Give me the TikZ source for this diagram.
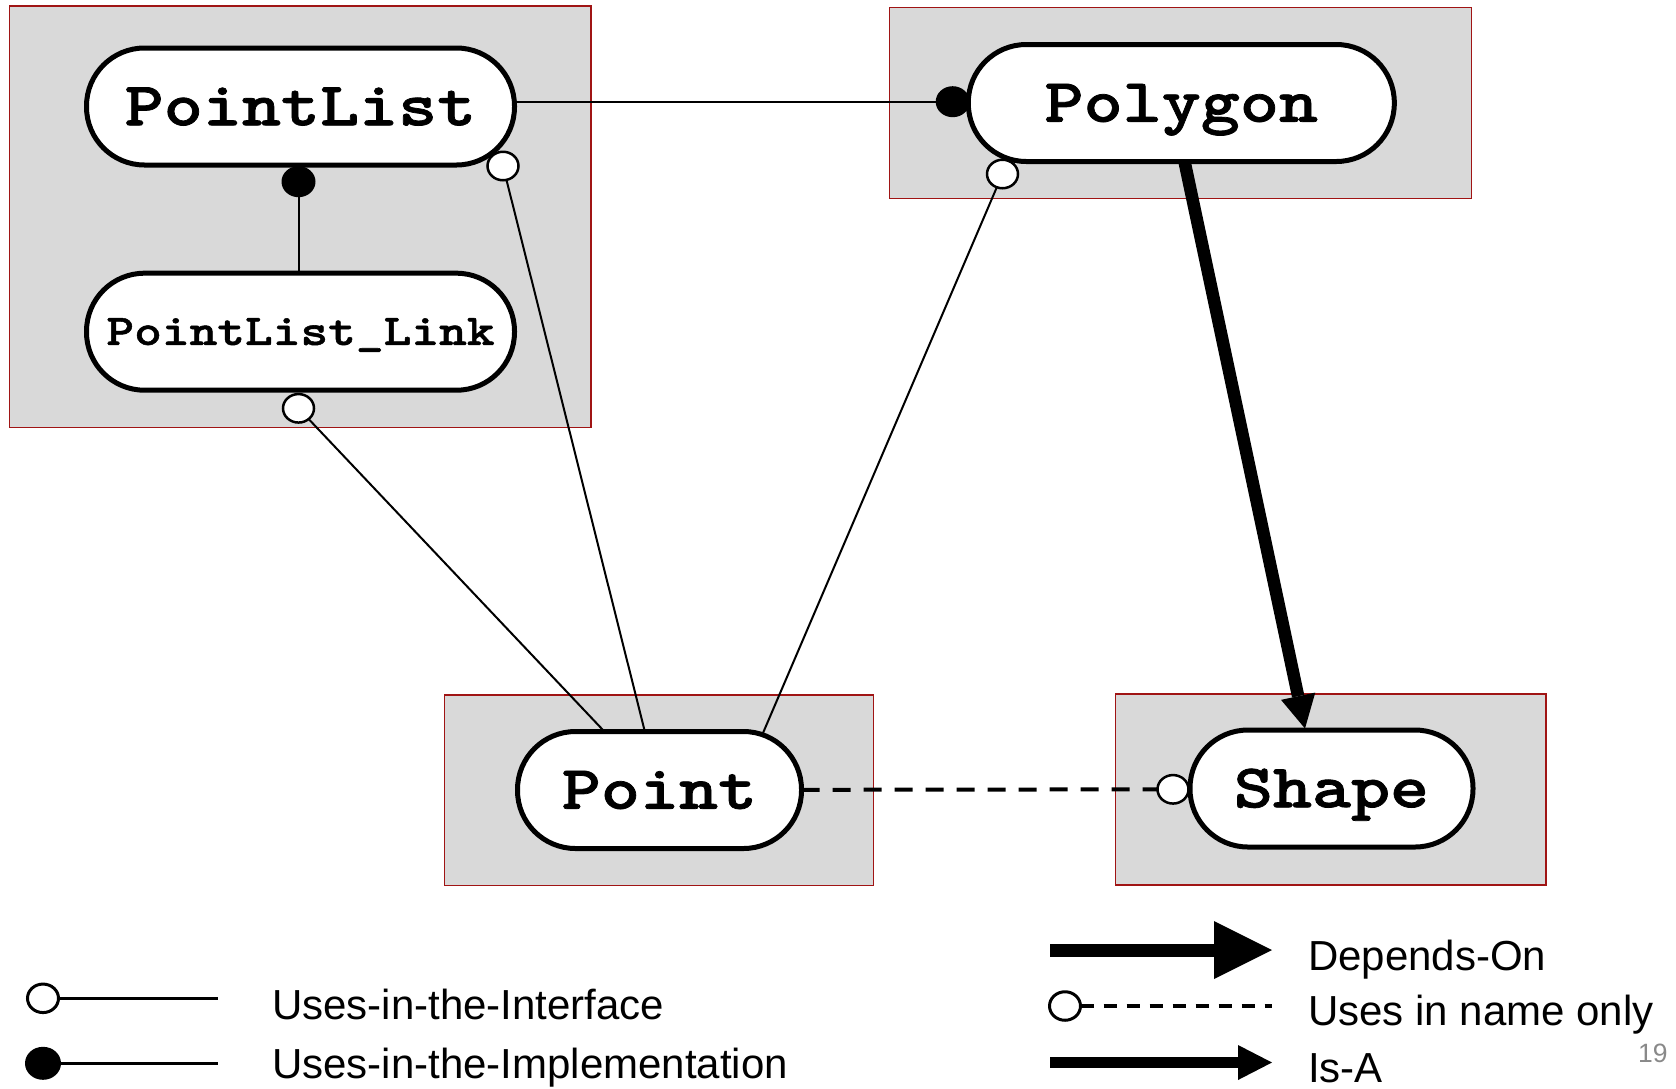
\documentclass[tikz,border=0pt]{standalone}
\usepackage{fontspec}
\setmainfont{Liberation Sans}
\newfontfamily\codefont{lmmonolt10-bold.otf}[FakeStretch=1.2,FakeBold=1.2]
\usetikzlibrary{arrows.meta,shapes.geometric}
\pgfdeclarelayer{boxes}
\pgfdeclarelayer{wires}
\pgfsetlayers{boxes,wires,main}
\definecolor{pkgfill}{RGB}{217,217,217}
\definecolor{pkgedge}{RGB}{160,20,20}
\definecolor{pagenum}{RGB}{137,137,137}

\begin{document}
\begin{tikzpicture}[x=1pt,y=-1pt,
  comp/.style={draw,line width=5pt,fill=white,rounded corners=58pt,
    inner sep=0pt,outer sep=0pt,minimum height=117pt,
    font=\codefont\fontsize{62}{62}\selectfont,
    text height=37.5pt,text depth=0pt},
  smallcomp/.style={comp,font=\codefont\fontsize{44}{44}\selectfont,
    text height=26.5pt},
  pkg/.style={draw=pkgedge,line width=1.3pt,fill=pkgfill,inner sep=0pt,outer sep=0pt},
  fdot/.style={ellipse,fill=black,draw=none,inner sep=0pt,outer sep=0pt,
    minimum width=34pt,minimum height=31pt},
  odot/.style={ellipse,draw,fill=white,line width=2.5pt,inner sep=0pt,outer sep=0pt,
    minimum width=31pt,minimum height=28.5pt},
  wire/.style={line width=2pt},
  namewire/.style={line width=4pt,dash pattern=on 18pt off 13pt},
  isa/.style={line width=12.5pt,-{Triangle[length=33pt,width=35pt,line width=0pt]}},
  legline/.style={line width=3.5pt},
  legdash/.style={line width=4pt,dash pattern=on 13pt off 10pt},
  legtext/.style={anchor=base west,inner sep=0pt,font=\fontsize{42}{42}\selectfont},
]
\useasboundingbox (0,0) rectangle (1676,1088);

% components
\node[comp,minimum width=428pt] (PointList) at (300.5,106.5) {PointList};
\node[smallcomp,minimum width=428pt] (PLink) at (300.5,331.7) {PointList\_Link};
\node[comp,minimum width=426pt] (Polygon) at (1181.3,103) {Polygon};
\node[comp,minimum width=284pt] (Point) at (659.5,790) {Point};
\node[comp,minimum width=283pt] (Shape) at (1331.5,788.5) {Shape};

% usage markers
\node[odot] (cPL) at (503,166) {};
\node[odot] (cLink) at (298.5,408.3) {};
\node[odot] (cPoly) at (1002.5,174) {};
\node[odot] (cShape) at (1173,789.3) {};

\coordinate (ptR) at ([xshift=103.5pt,yshift=-1.5pt]Point.north);
\coordinate (isaS) at ([xshift=3.2pt]Polygon.south);
\coordinate (isaE) at ([xshift=-26.5pt,yshift=1.5pt]Shape.north);

% connectors, behind the components
\begin{pgfonlayer}{wires}
  \node[fdot] (dA) at (298.5,181.7) {};
  \node[fdot] (dB) at (952.7,101.7) {};
  \draw[wire] (dA) -- (dA |- PLink.north);
  \draw[wire] (dB -| PointList.east) -- (dB);
  \draw[wire] (cLink) -- (Point);
  \draw[wire] (cPL) -- (Point);
  \draw[wire] (cPoly) -- (ptR);
  \draw[namewire] (Point) -- (cShape);
  \draw[isa] (isaS) -- (isaE);
\end{pgfonlayer}

% package boxes
\begin{pgfonlayer}{boxes}
  \node[pkg,minimum width=581.4pt,minimum height=421.3pt] (gPL) at (300.3,216.65) {};
  \node[pkg,minimum width=581.7pt,minimum height=191pt] (gPoly) at (1180.45,102.8) {};
  \node[pkg,minimum width=429pt,minimum height=190.7pt] (gPoint) at (659,790.35) {};
  \node[pkg,minimum width=430.4pt,minimum height=191pt] (gShape) at (1330.8,789.5) {};
\end{pgfonlayer}

% legend, left column
\node[odot,line width=3pt] (lgI) at (43,998.3) {};
\coordinate (lgIe) at (218,998.3);
\draw[legline] (lgI) -- (lgIe);
\node[legtext] (tI) at (272,1019.5) {Uses-in-the-Interface};
\node[fdot,minimum width=36pt,minimum height=33pt] (lgM) at (43,1063.3) {};
\coordinate (lgMe) at (218,1063.3);
\draw[legline] (lgM) -- (lgMe);
\node[legtext] (tM) at (272,1078.5) {Uses-in-the-Implementation};

% legend, right column
\coordinate (lgDs) at (1050,950);
\coordinate (lgDe) at (1272,950);
\draw[line width=13pt,-{Triangle[length=58pt,width=58pt,line width=0pt]}] (lgDs) -- (lgDe);
\node[legtext] (tD) at (1308,970) {Depends-On};
\node[odot,line width=3pt] (lgN) at (1065,1006) {};
\coordinate (lgNe) at (1272,1006);
\draw[legdash] (lgN) -- (lgNe);
\node[legtext] (tN) at (1308,1025) {Uses in name only};
\coordinate (lgAs) at (1050,1062.5);
\coordinate (lgAe) at (1272,1062.5);
\draw[line width=11.5pt,-{Triangle[length=34pt,width=35pt,line width=0pt]}] (lgAs) -- (lgAe);
\node[legtext] (tA) at (1308,1082) {Is-A};

% page number
\node[anchor=base west,inner sep=0pt,text=pagenum,font=\fontsize{26.5}{26.5}\selectfont] (pg) at (1638,1062) {19};
\end{tikzpicture}
\end{document}
